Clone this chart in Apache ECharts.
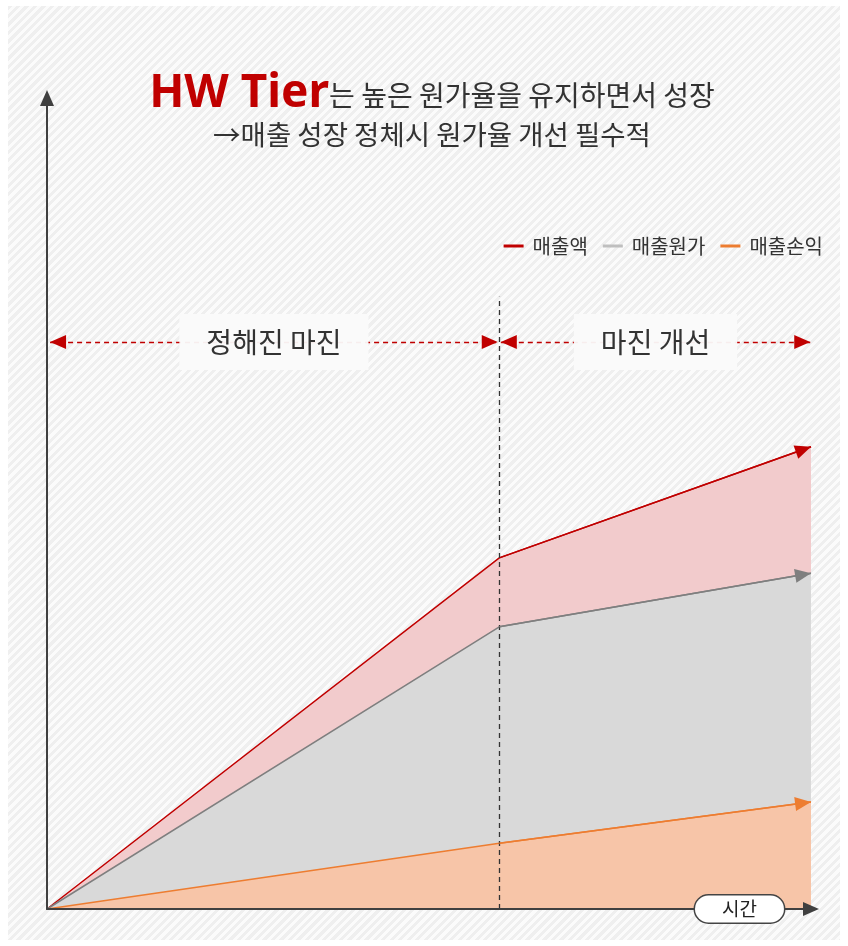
<!DOCTYPE html>
<html lang="ko">
<head>
    <meta charset="utf-8">
    <title>HW Tier 원가율</title>
    <script src="https://cdn.jsdelivr.net/npm/echarts@6/dist/echarts.min.js"></script>
    <style>
        body { margin: 0; background: #fff; }
        #wrap { position: relative; width: 848px; height: 946px; background: #fff; }
        #bg {
            position: absolute; left: 8px; top: 6px; right: 8px; bottom: 6px;
            background: repeating-linear-gradient(135deg, #efefef 0 3px, #fbfbfb 3px 6px);
        }
        #main { position: absolute; left: 0; top: 0; width: 848px; height: 946px; }
    </style>
</head>
<body>
<div id="wrap">
    <div id="bg"></div>
    <div id="main"></div>
</div>
<script>
    // 시간축 위치 (0 = 시작, 두 번째 = 성장 정체 시점, 마지막 = 끝)
    var timePos = [0, 59.2, 100];
    // 각 시점의 값
    var sales = [0, 43.3, 57.0];
    var cost = [0, 34.8, 41.4];
    var profit = [0, 8.1, 13.2];
    var seriesNames = ['매출액', '매출원가', '매출손익'];
    var phaseLabels = ['정해진 마진', '마진 개선'];
    var phaseY = 69.9;
    var dividerTop = 75.5;

    var font = '"Noto Sans CJK KR", "Noto Sans", sans-serif';
    var lineColors = ['#c00000', '#7f7f7f', '#ed7d31'];
    var areaColors = ['#f2cbcc', '#d9d9d9', '#f7c5a8'];
    var legendColors = ['#c00000', '#bfbfbf', '#ed7d31'];

    window.onload = function () {
        var mCharts = echarts.init(document.getElementById('main'));

        function pts(vals) {
            return vals.map(function (v, i) { return [timePos[i], v]; });
        }

        // 마지막 구간 위에 화살표
        function endArrow(vals, color) {
            return {
                silent: true,
                symbol: ['none', 'triangle'],
                symbolSize: [14, 16],
                symbolOffset: [[0, 8], [0, 8]],
                label: { show: false },
                lineStyle: { color: color, width: 1.5, type: 'solid' },
                data: [[
                    { coord: [timePos[1], vals[1]] },
                    { coord: [timePos[2], vals[2]] }
                ]]
            };
        }

        var salesArrow = endArrow(sales, lineColors[0]);
        // 구간 표시 (점선 화살표 + 라벨), 구분 세로선
        var phaseLabelStyle = {
            show: true,
            position: 'insideMiddle',
            distance: 0,
            fontFamily: font,
            fontSize: 28,
            color: '#333',
            backgroundColor: 'rgba(250,250,250,0.95)',
            padding: [14, 27]
        };
        var dashRed = { color: '#c00000', type: [5, 4], width: 1.3 };
        salesArrow.data.push([
            { coord: [0.4, phaseY], symbol: 'triangle', lineStyle: dashRed,
              label: Object.assign({ formatter: phaseLabels[0] }, phaseLabelStyle) },
            { coord: [59.0, phaseY], symbol: 'triangle' }
        ]);
        salesArrow.data.push([
            { coord: [59.4, phaseY], symbol: 'triangle', lineStyle: dashRed,
              label: Object.assign({ formatter: phaseLabels[1] }, phaseLabelStyle) },
            { coord: [99.9, phaseY], symbol: 'triangle' }
        ]);
        salesArrow.data.push([
            { coord: [timePos[1], 0], symbol: 'none', lineStyle: { color: '#333', type: [5, 4], width: 1.3 } },
            { coord: [timePos[1], dividerTop], symbol: 'none' }
        ]);

        var axisArrowLine = { show: true, symbol: ['none', 'triangle'], symbolSize: [14, 16], lineStyle: { color: '#404040', width: 2 } };

        var option = {
            animation: false,
            title: {
                left: 427,
                top: 62,
                textAlign: 'center',
                itemGap: 8,
                text: '{a|HW Tier}{b|는 높은 원가율을 유지하면서 성장}',
                textStyle: {
                    rich: {
                        a: { fontFamily: '"Noto Sans", sans-serif', fontSize: 46, fontWeight: 'bold', color: '#c00000', verticalAlign: 'bottom', lineHeight: 50 },
                        b: { fontFamily: font, fontSize: 28, fontWeight: 'normal', color: '#333', verticalAlign: 'bottom', lineHeight: 40, padding: [0, 0, 8, 0] }
                    }
                },
                subtext: '→매출 성장 정체시 원가율 개선 필수적',
                subtextStyle: { fontFamily: font, fontSize: 27.5, color: '#333' }
            },
            legend: {
                right: 20,
                top: 231,
                icon: 'rect',
                itemWidth: 20,
                itemHeight: 3,
                itemGap: 15,
                textStyle: { fontFamily: font, fontSize: 20, color: '#333', padding: [0, 0, 0, 4] },
                data: seriesNames.map(function (n, i) {
                    return { name: n, itemStyle: { color: legendColors[i] } };
                })
            },
            grid: { left: 47, top: 98, width: 764, height: 811 },
            xAxis: [
                {
                    type: 'value',
                    min: 0,
                    max: 100,
                    z: 5,
                    axisLine: axisArrowLine,
                    axisTick: { show: false },
                    axisLabel: { show: false },
                    splitLine: { show: false }
                },
                {
                    // '시간' 이름표만 표시 (축선 위에 올림)
                    type: 'value',
                    position: 'bottom',
                    min: 0,
                    max: 100,
                    z: 6,
                    name: '시간',
                    nameLocation: 'end',
                    nameGap: -116,
                    nameTextStyle: {
                        fontFamily: font,
                        fontSize: 19,
                        color: '#222',
                        backgroundColor: '#fff',
                        borderColor: '#444',
                        borderWidth: 1.5,
                        borderRadius: 15,
                        padding: [4, 27],
                        verticalAlign: 'middle'
                    },
                    axisLine: { show: false },
                    axisTick: { show: false },
                    axisLabel: { show: false },
                    splitLine: { show: false }
                }
            ],
            yAxis: {
                type: 'value',
                min: 0,
                max: 100,
                z: 5,
                axisLine: axisArrowLine,
                axisTick: { show: false },
                axisLabel: { show: false },
                splitLine: { show: false }
            },
            series: [
                {
                    name: seriesNames[0], type: 'line', data: pts(sales), symbol: 'none', silent: true,
                    itemStyle: { color: lineColors[0] },
                    lineStyle: { color: lineColors[0], width: 1.5 },
                    areaStyle: { color: areaColors[0], opacity: 1 },
                    markLine: salesArrow
                },
                {
                    name: seriesNames[1], type: 'line', data: pts(cost), symbol: 'none', silent: true,
                    itemStyle: { color: lineColors[1] },
                    lineStyle: { color: lineColors[1], width: 1.5 },
                    areaStyle: { color: areaColors[1], opacity: 1 },
                    markLine: endArrow(cost, lineColors[1])
                },
                {
                    name: seriesNames[2], type: 'line', data: pts(profit), symbol: 'none', silent: true,
                    itemStyle: { color: lineColors[2] },
                    lineStyle: { color: lineColors[2], width: 1.5 },
                    areaStyle: { color: areaColors[2], opacity: 1 },
                    markLine: endArrow(profit, lineColors[2])
                }
            ]
        };

        mCharts.setOption(option);
    };
</script>
</body>
</html>
